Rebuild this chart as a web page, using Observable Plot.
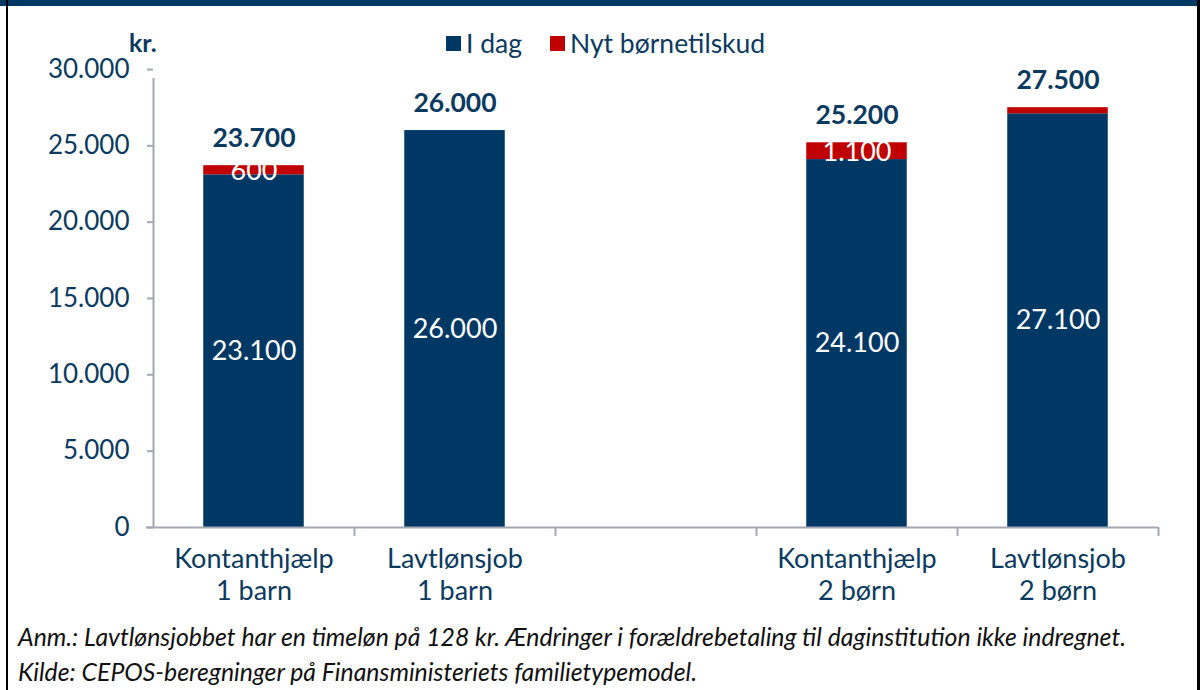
<!DOCTYPE html>
<html>
<head>
<meta charset="utf-8">
<script src="https://cdn.jsdelivr.net/npm/d3@7"></script>
<script src="https://cdn.jsdelivr.net/npm/@observablehq/plot@0.6"></script>
<style>
  html, body { margin: 0; padding: 0; background: #fff; }
  #wrap { position: relative; width: 1200px; height: 690px; overflow: hidden; font-family: Lato, "Open Sans", sans-serif; }
  #band { position: absolute; left: 0; top: 0; width: 1200px; height: 6px; background: #003865; }
  #lb { position: absolute; left: 6px; top: 0; width: 2px; height: 690px; background: #000; }
  #rb { position: absolute; left: 1197px; top: 0; width: 3px; height: 690px; background: #000; }
  #kr { position: absolute; left: 129px; top: 27px; font-size: 25px; font-weight: bold; color: #0B3A60; }
  #legend { position: absolute; top: 27px; left: 446px; font-size: 26.5px; color: #0B3A60; display: flex; align-items: center; white-space: nowrap; }
  #legend .sw { display: inline-block; width: 15px; height: 15px; margin-right: 5px; }
  #legend .item { display: flex; align-items: center; margin-right: 28px; }
  #chart { position: absolute; left: 0; top: 40px; }
  #foot { position: absolute; left: 18px; top: 619px; font-size: 24.8px; font-style: italic; color: #111; line-height: 35px; white-space: nowrap; }
</style>
</head>
<body>
<div id="wrap">
  <div id="band"></div>
  <div id="lb"></div>
  <div id="rb"></div>
  <div id="kr">kr.</div>
  <div id="legend"></div>
  <div id="chart"></div>
  <div id="foot"></div>
</div>
<script>
// Data
const categories = ["Kontanthjælp\n1 barn", "Lavtlønsjob\n1 barn", "", "Kontanthjælp\n2 børn", "Lavtlønsjob\n2 børn"];
const slotIndex = [0, 1, 3, 4];
const iDag = [23100, 26000, 24100, 27100];
const nytTilskud = [600, 0, 1100, 400];
const totals = [23700, 26000, 25200, 27500];
const seriesNames = ["I dag", "Nyt børnetilskud"];
const seriesColors = ["#003865", "#C00000"];
const yTicks = [0, 5000, 10000, 15000, 20000, 25000, 30000];
const footLines = [
  "Anm.: Lavtlønsjobbet har en timeløn på 128 kr. Ændringer i forældrebetaling til daginstitution ikke indregnet.",
  "Kilde: CEPOS-beregninger på Finansministeriets familietypemodel."
];

const fmt = v => d3.format(",")(v).replace(/,/g, ".");
const textColor = "#0B3A60";
const axisGrey = "#A3A7B3";

// Build rows
const rows = [];
slotIndex.forEach((s, i) => {
  rows.push({pos: s, series: seriesNames[0], y1: 0, y2: iDag[i], value: iDag[i]});
  rows.push({pos: s, series: seriesNames[1], y1: iDag[i], y2: iDag[i] + nytTilskud[i], value: nytTilskud[i]});
});
const totalRows = slotIndex.map((s, i) => ({pos: s, total: totals[i]}));
const catRows = categories.map((c, i) => ({pos: i, label: c})).filter(d => d.label);

const W = 1200, H = 580;
const chart = Plot.plot({
  width: W,
  height: H,
  marginLeft: 153,
  marginRight: 42,
  marginTop: 29,
  marginBottom: 93,
  style: {fontFamily: "Lato, 'Open Sans', sans-serif", overflow: "visible", background: "transparent"},
  x: {type: "linear", domain: [0, categories.length], axis: null},
  y: {domain: [0, 30000], axis: null},
  color: {domain: seriesNames, range: seriesColors},
  marks: [
    Plot.rectY(rows, {x1: d => d.pos + 0.25, x2: d => d.pos + 0.75, y1: "y1", y2: "y2", fill: "series"}),
    // axes lines
    Plot.ruleY([0], {stroke: axisGrey, strokeWidth: 2, x1: 0, x2: categories.length, insetLeft: -7}),
    Plot.ruleX([0], {stroke: axisGrey, strokeWidth: 2, y1: 0, y2: 30000, insetBottom: -9}),
    Plot.axisY({ticks: yTicks, tickFormat: fmt, tickSize: 6, stroke: axisGrey, strokeWidth: 2, fontSize: 26, fill: textColor, tickPadding: 18, color: textColor}),
    Plot.axisX({ticks: d3.range(1, categories.length + 1), tickFormat: () => "", tickSize: 9, stroke: axisGrey, strokeWidth: 2}),
    // category labels
    Plot.text(catRows, {x: d => d.pos + 0.5, y: 0, text: "label", dy: 17, lineAnchor: "top", lineHeight: 1.2, fontSize: 27, fill: textColor}),
    // value labels inside navy segments
    Plot.text(rows.filter(d => d.series === seriesNames[0]), {x: d => d.pos + 0.5, y: d => (d.y1 + d.y2) / 2, text: d => fmt(d.value), fill: "white", fontSize: 27}),
    // value labels on red segments
    Plot.text(rows.filter(d => d.series === seriesNames[1] && d.value >= 500), {x: d => d.pos + 0.5, y: d => (d.y1 + d.y2) / 2, text: d => fmt(d.value), fill: "white", fontSize: 27, dy: 1}),
    // totals
    Plot.text(totalRows, {x: d => d.pos + 0.5, y: "total", text: d => fmt(d.total), dy: -27, fontSize: 26.5, fontWeight: "bold", fill: textColor})
  ]
});
document.getElementById("chart").appendChild(chart);

// Legend
const leg = document.getElementById("legend");
seriesNames.forEach((n, i) => {
  const it = document.createElement("span");
  it.className = "item";
  const sw = document.createElement("span");
  sw.className = "sw";
  sw.style.background = seriesColors[i];
  it.appendChild(sw);
  it.appendChild(document.createTextNode(n));
  leg.appendChild(it);
});
// Footnote
document.getElementById("foot").innerHTML = footLines.map(l => `<div>${l}</div>`).join("");
</script>
</body>
</html>
